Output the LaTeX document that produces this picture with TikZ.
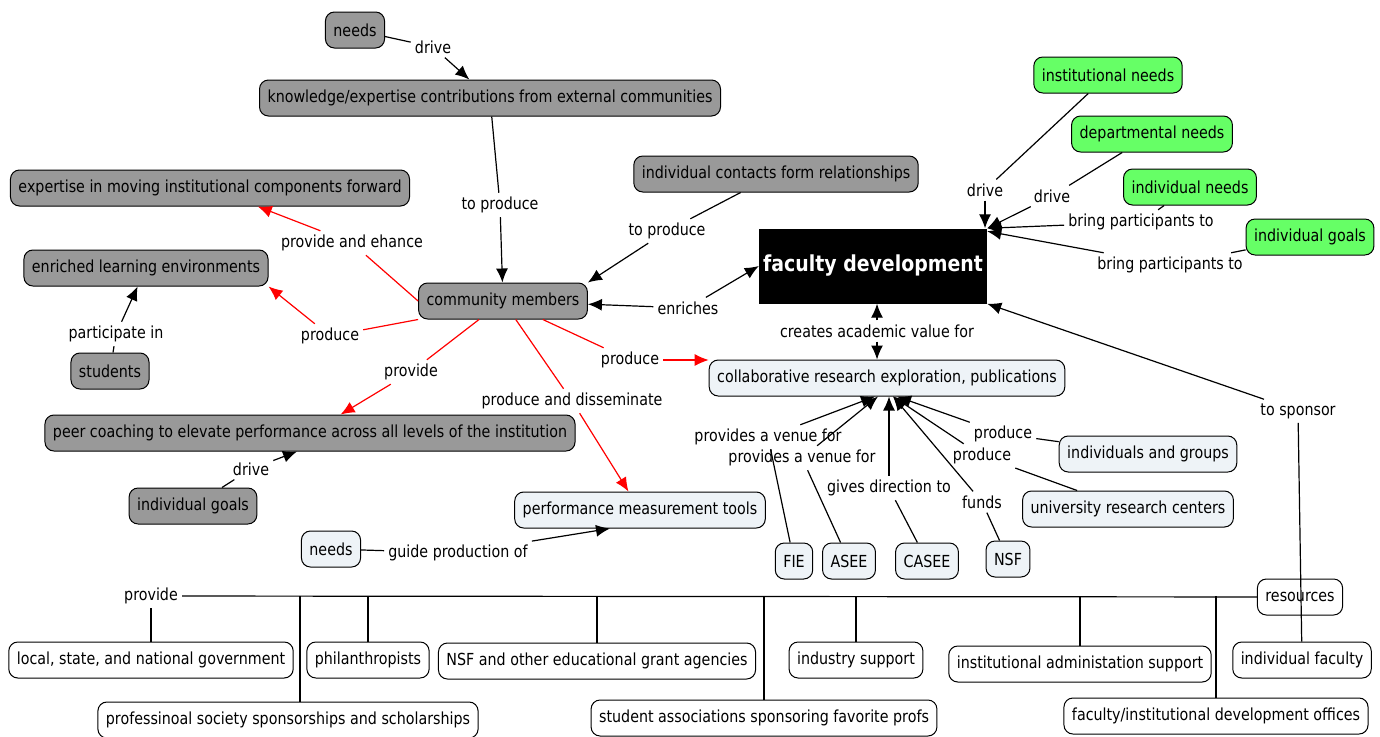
\documentclass[tikz,border=0pt]{standalone}
\usepackage{fontspec}
\setmainfont{DejaVu Sans}[FakeStretch=0.86]
\usetikzlibrary{arrows.meta}
\definecolor{cgray}{RGB}{153,153,153}
\definecolor{clight}{RGB}{238,243,247}
\definecolor{cgreen}{RGB}{102,255,102}
\tikzset{
  concept/.style={draw, line width=1pt, rounded corners=9pt, minimum height=36pt, inner xsep=8pt, font=\fontsize{16.6}{19}\selectfont},
  grayc/.style={concept, fill=cgray},
  lightc/.style={concept, fill=clight},
  greenc/.style={concept, fill=cgreen},
  whitec/.style={concept, fill=white},
  phrase/.style={inner sep=4pt, font=\fontsize{16.6}{19}\selectfont},
  link/.style={line width=1.2pt},
  redlink/.style={line width=1.2pt, red},
  >={Latex[length=14pt,width=12pt]}
}
\begin{document}
\begin{tikzpicture}[x=1pt,y=-1pt]
\useasboundingbox (0,0) rectangle (1380,736);
\node[grayc] (needsA) at (355,30) {needs};
\node[grayc] (know) at (490,98) {knowledge/expertise contributions from external communities};
\node[grayc] (expert) at (210,188) {expertise in moving institutional components forward};
\node[grayc] (enrich) at (146,268) {enriched learning environments};
\node[grayc] (students) at (110,371) {students};
\node[grayc] (comm) at (503,301) {community members};
\node[grayc] (contacts) at (776,174) {individual contacts form relationships};
\node[grayc] (peer) at (310,433) {peer coaching to elevate performance across all levels of the institution};
\node[grayc] (goalsA) at (193,506) {individual goals};
\node[fill=black, text=white, minimum width=228pt, minimum height=75pt, font=\fontsize{22}{26}\selectfont\bfseries] (facdev) at (873,266) {faculty development};
\node[greenc] (instneeds) at (1108,75) {institutional needs};
\node[greenc] (deptneeds) at (1152,134) {departmental needs};
\node[greenc] (indneeds) at (1190,187) {individual needs};
\node[greenc] (goalsB) at (1310,237) {individual goals};
\node[lightc] (collab) at (887,378) {collaborative research exploration, publications};
\node[lightc] (perf) at (640,510) {performance measurement tools};
\node[lightc] (needsB) at (331,549) {needs};
\node[lightc] (indgroups) at (1148,454) {individuals and groups};
\node[lightc] (urc) at (1128,509) {university research centers};
\node[lightc] (fie) at (794,561) {FIE};
\node[lightc] (asee) at (849,561) {ASEE};
\node[lightc] (casee) at (927,561) {CASEE};
\node[lightc] (nsf) at (1008,559) {NSF};
\node[whitec] (resources) at (1300,597) {resources};
\node[whitec] (gov) at (151,660) {local, state, and national government};
\node[whitec] (phil) at (368,660) {philanthropists};
\node[whitec] (nsfother) at (597,661) {NSF and other educational grant agencies};
\node[whitec] (industry) at (856,660) {industry support};
\node[whitec] (admin) at (1080,664) {institutional administation support};
\node[whitec] (indfac) at (1302,660) {individual faculty};
\node[whitec] (prof) at (288,720) {professinoal society sponsorships and scholarships};
\node[whitec] (stuassoc) at (764,718) {student associations sponsoring favorite profs};
\node[whitec] (devoff) at (1216,716) {faculty/institutional development offices};

\node[phrase] (ldrv1) at (433,47) {drive};
\node[phrase] (lprod1) at (500,205) {to produce};
\node[phrase] (lprod2) at (667,231) {to produce};
\node[phrase] (lenh) at (352,243) {provide and ehance};
\node[phrase] (lprod3) at (330,336) {produce};
\node[phrase] (lpart) at (116,334) {participate in};
\node[phrase] (lenr) at (688,308) {enriches};
\node[phrase] (lprov1) at (411,372) {provide};
\node[phrase] (ldiss) at (572,401) {produce and disseminate};
\node[phrase] (lprod4) at (630,360) {produce};
\node[phrase] (ldrv2) at (251,469) {drive};
\node[phrase] (lguide) at (458,553) {guide production of};
\node[phrase] (lcreate) at (877,331) {creates academic value for};
\node[phrase] (ldrv3) at (985,190) {drive};
\node[phrase] (ldrv4) at (1052,196) {drive};
\node[phrase] (lbring1) at (1141,222) {bring participants to};
\node[phrase] (lbring2) at (1170,265) {bring participants to};
\node[phrase] (lspons) at (1298,411) {to sponsor};
\node[phrase] (lvenue1) at (768,437) {provides a venue for};
\node[phrase] (lvenue2) at (802,458) {provides a venue for};
\node[phrase] (ldir) at (889,488) {gives direction to};
\node[phrase] (lfunds) at (982,502) {funds};
\node[phrase] (lprod5) at (1003,434) {produce};
\node[phrase] (lprod6) at (982,456) {produce};
\node[phrase] (lprov2) at (151,596) {provide};
\coordinate (profup) at ([xshift=12pt]prof.north);

\draw[link] (needsA) -- (ldrv1);
\draw[link,->] (ldrv1) -- (know);
\draw[link] (know) -- (lprod1);
\draw[link,->] (lprod1) -- (comm);
\draw[link] (contacts) -- (lprod2);
\draw[link,->] (lprod2) -- (comm.north east);
\draw[redlink] (comm.west) -- (lenh);
\draw[redlink,->] (lenh) -- (expert);
\draw[redlink] (comm.south west) -- (lprod3);
\draw[redlink,->] (lprod3) -- (enrich.south east);
\draw[link] (students) -- (lpart);
\draw[link,->] (lpart) -- (enrich);
\draw[link,->] (lenr) -- (comm);
\draw[link,->] (lenr) -- (facdev.west);
\draw[redlink] (comm) -- (lprov1);
\draw[redlink,->] (lprov1) -- (peer);
\draw[redlink] (comm) -- (ldiss);
\draw[redlink,->] (ldiss) -- (perf);
\draw[redlink] (comm) -- (lprod4);
\draw[redlink,->] (lprod4) -- (lprod4 -| collab.west);
\draw[link] (goalsA) -- (ldrv2);
\draw[link,->] (ldrv2) -- ([xshift=-13pt]peer.south);
\draw[link] (needsB) -- (lguide);
\draw[link,->] (lguide) -- ([xshift=-30pt]perf.south);
\draw[link,->] (lcreate) -- (lcreate |- facdev.south);
\draw[link,->] (lcreate) -- (lcreate |- collab.north);
\draw[link] (instneeds) -- (ldrv3);
\draw[link,->] (ldrv3) -- (ldrv3 |- facdev.north);
\draw[link] (deptneeds) -- (ldrv4);
\draw[link,->] (ldrv4) -- (facdev.north east);
\draw[link] (indneeds) -- (lbring1);
\draw[link,->] (lbring1) -- (facdev.north east);
\draw[link] (goalsB) -- (lbring2);
\draw[link,->] (lbring2) -- ([yshift=-3pt]facdev.north east);
\draw[link] (indfac) -- (lspons);
\draw[link,->] (lspons) -- (facdev.south east);
\draw[link] (fie) -- (lvenue1);
\draw[link,->] (lvenue1) -- ([xshift=-12pt]collab.south);
\draw[link] (asee) -- (lvenue2);
\draw[link,->] (lvenue2) -- ([xshift=-9pt]collab.south);
\draw[link] (casee) -- (ldir);
\draw[link,->] (ldir) -- (ldir |- collab.south);
\draw[link] (nsf) -- (lfunds);
\draw[link,->] (lfunds) -- ([xshift=6pt]collab.south);
\draw[link] (indgroups) -- (lprod5);
\draw[link,->] (lprod5) -- ([xshift=10pt]collab.south);
\draw[link] (urc) -- (lprod6);
\draw[link,->] (lprod6) -- ([xshift=6pt]collab.south);
\draw[link] (lprov2) -- (resources);
\draw[link] (lprov2) -- (gov);
\draw[link] (profup |- lprov2) -- (profup);
\draw[link] (phil.north |- lprov2) -- (phil.north);
\draw[link] (nsfother.north |- lprov2) -- (nsfother.north);
\draw[link] (stuassoc.north |- lprov2) -- (stuassoc.north);
\draw[link] (industry.north |- lprov2) -- (industry.north);
\draw[link] (admin.north |- lprov2) -- (admin.north);
\draw[link] (devoff.north |- lprov2) -- (devoff.north);
\end{tikzpicture}
\end{document}
